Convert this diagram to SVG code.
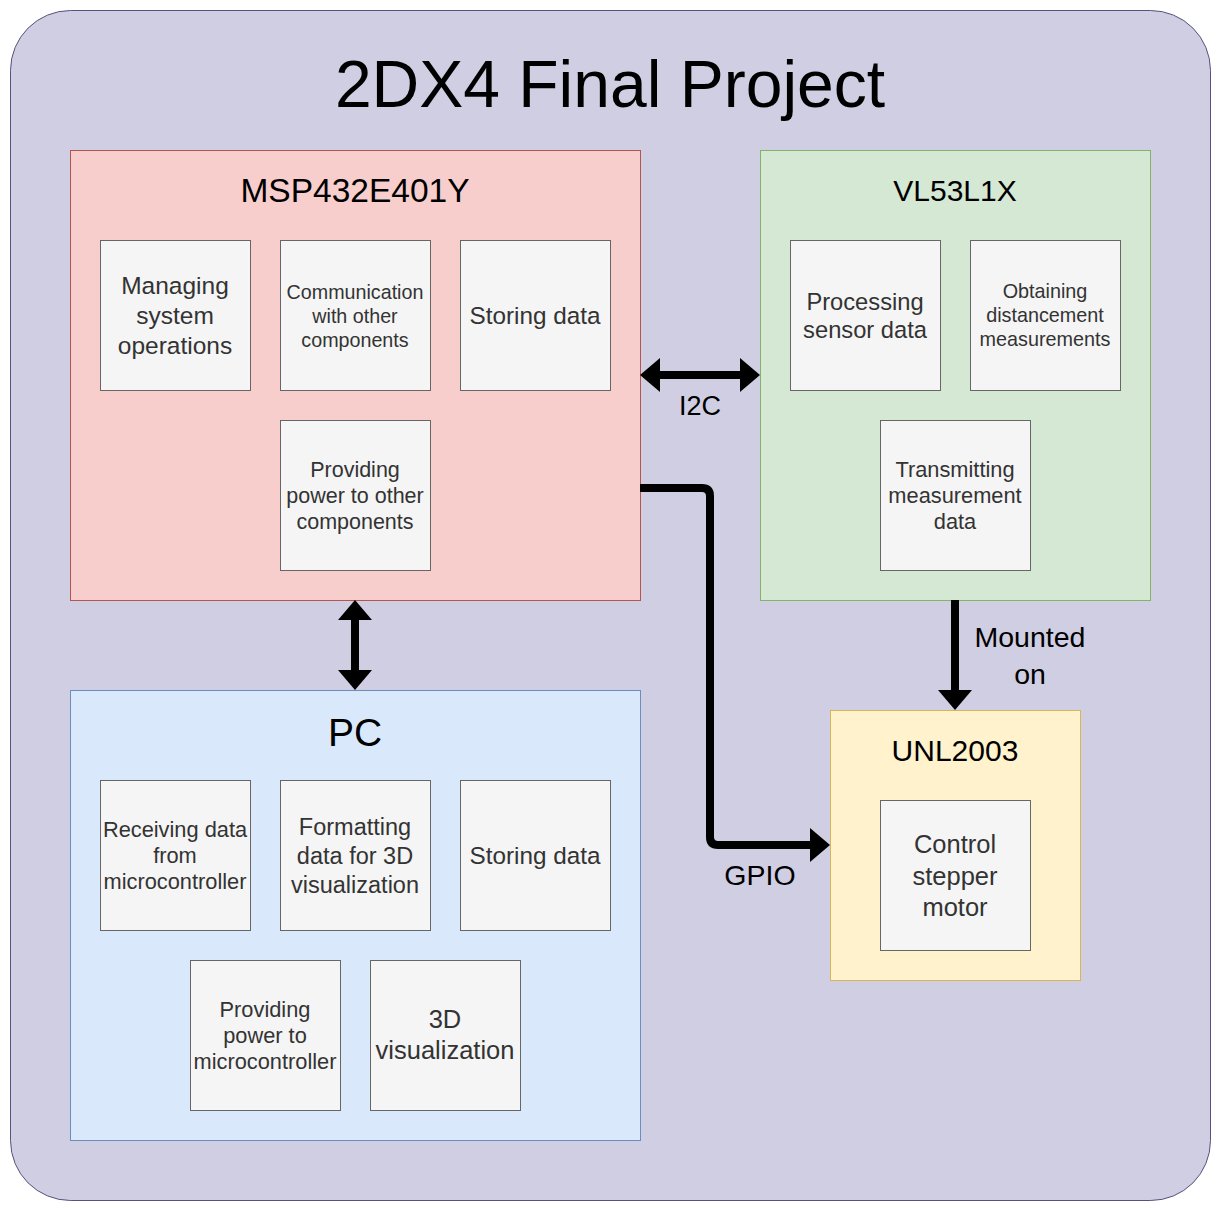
<svg xmlns="http://www.w3.org/2000/svg" width="1221" height="1211" viewBox="0 0 1221 1211">
<style>
text{font-family:"Liberation Sans",Arial,sans-serif;text-anchor:middle}
.t{fill:#000}
.i{fill:#333333}
.box{fill:#f5f5f5;stroke:#666666;stroke-width:1}
.conn{stroke:#000;stroke-width:8;fill:none}
</style>
<defs>
<marker id="ah" markerUnits="userSpaceOnUse" markerWidth="20" markerHeight="34" refX="0" refY="17" orient="auto-start-reverse" viewBox="0 0 20 34"><path d="M0,0 L20,17 L0,34 z" fill="#000"/></marker>
</defs>
<g id="frame">
<rect x="10.5" y="10.5" width="1200" height="1190" rx="60" ry="60" fill="#d0cee2" stroke="#56517e"/>
<text class="t" x="610" y="107" font-size="66">2DX4 Final Project</text>
</g>
<g id="msp">
<rect x="70.5" y="150.5" width="570" height="450" fill="#f8cecc" stroke="#b85450"/>
<text class="t" x="355" y="202" font-size="33.5">MSP432E401Y</text>
</g>
<g id="msp-manage"><rect class="box" x="100.5" y="240.5" width="150" height="150"/>
<text class="i" font-size="24.5"><tspan x="175" y="294">Managing</tspan><tspan x="175" y="324">system</tspan><tspan x="175" y="354">operations</tspan></text></g>
<g id="msp-comm"><rect class="box" x="280.5" y="240.5" width="150" height="150"/>
<text class="i" font-size="19.7"><tspan x="355" y="299">Communication</tspan><tspan x="355" y="323">with other</tspan><tspan x="355" y="347">components</tspan></text></g>
<g id="msp-store"><rect class="box" x="460.5" y="240.5" width="150" height="150"/>
<text class="i" font-size="24.3" x="535" y="324">Storing data</text></g>
<g id="msp-power"><rect class="box" x="280.5" y="420.5" width="150" height="150"/>
<text class="i" font-size="21.5"><tspan x="355" y="477">Providing</tspan><tspan x="355" y="503">power to other</tspan><tspan x="355" y="529">components</tspan></text></g>

<g id="vl">
<rect x="760.5" y="150.5" width="390" height="450" fill="#d5e8d4" stroke="#82b366"/>
<text class="t" x="955" y="201" font-size="30">VL53L1X</text>
</g>
<g id="vl-proc"><rect class="box" x="790.5" y="240.5" width="150" height="150"/>
<text class="i" font-size="23.7"><tspan x="865" y="310">Processing</tspan><tspan x="865" y="338">sensor data</tspan></text></g>
<g id="vl-obtain"><rect class="box" x="970.5" y="240.5" width="150" height="150"/>
<text class="i" font-size="19.8"><tspan x="1045" y="298">Obtaining</tspan><tspan x="1045" y="322">distancement</tspan><tspan x="1045" y="346">measurements</tspan></text></g>
<g id="vl-trans"><rect class="box" x="880.5" y="420.5" width="150" height="150"/>
<text class="i" font-size="21.8"><tspan x="955" y="477">Transmitting</tspan><tspan x="955" y="503">measurement</tspan><tspan x="955" y="529">data</tspan></text></g>

<g id="pc">
<rect x="70.5" y="690.5" width="570" height="450" fill="#dae8fc" stroke="#6c8ebf"/>
<text class="t" x="355" y="746" font-size="39">PC</text>
</g>
<g id="pc-recv"><rect class="box" x="100.5" y="780.5" width="150" height="150"/>
<text class="i" font-size="21.8"><tspan x="175" y="837">Receiving data</tspan><tspan x="175" y="863">from</tspan><tspan x="175" y="889">microcontroller</tspan></text></g>
<g id="pc-format"><rect class="box" x="280.5" y="780.5" width="150" height="150"/>
<text class="i" font-size="23.5"><tspan x="355" y="835">Formatting</tspan><tspan x="355" y="864">data for 3D</tspan><tspan x="355" y="893">visualization</tspan></text></g>
<g id="pc-store"><rect class="box" x="460.5" y="780.5" width="150" height="150"/>
<text class="i" font-size="24.3" x="535" y="864">Storing data</text></g>
<g id="pc-power"><rect class="box" x="190.5" y="960.5" width="150" height="150"/>
<text class="i" font-size="21.8"><tspan x="265" y="1017">Providing</tspan><tspan x="265" y="1043">power to</tspan><tspan x="265" y="1069">microcontroller</tspan></text></g>
<g id="pc-vis"><rect class="box" x="370.5" y="960.5" width="150" height="150"/>
<text class="i" font-size="25.5"><tspan x="445" y="1028">3D</tspan><tspan x="445" y="1059">visualization</tspan></text></g>

<g id="unl">
<rect x="830.5" y="710.5" width="250" height="270" fill="#fff2cc" stroke="#d6b656"/>
<text class="t" x="955" y="761" font-size="30">UNL2003</text>
</g>
<g id="unl-ctrl"><rect class="box" x="880.5" y="800.5" width="150" height="150"/>
<text class="i" font-size="25.5"><tspan x="955" y="853">Control</tspan><tspan x="955" y="885">stepper</tspan><tspan x="955" y="916">motor</tspan></text></g>

<g id="connectors">
<line class="conn" x1="660" y1="375" x2="740" y2="375" marker-start="url(#ah)" marker-end="url(#ah)"/>
<text class="t" x="700" y="415" font-size="27">I2C</text>
<line class="conn" x1="355" y1="620" x2="355" y2="670" marker-start="url(#ah)" marker-end="url(#ah)"/>
<path class="conn" d="M640,488 H702 Q710,488 710,496 V837 Q710,845 718,845 H810" marker-end="url(#ah)"/>
<text class="t" x="760" y="885" font-size="28.5">GPIO</text>
<line class="conn" x1="955" y1="600" x2="955" y2="690" marker-end="url(#ah)"/>
<text class="t" font-size="28.5"><tspan x="1030" y="647">Mounted</tspan><tspan x="1030" y="684">on</tspan></text>
</g>
</svg>
